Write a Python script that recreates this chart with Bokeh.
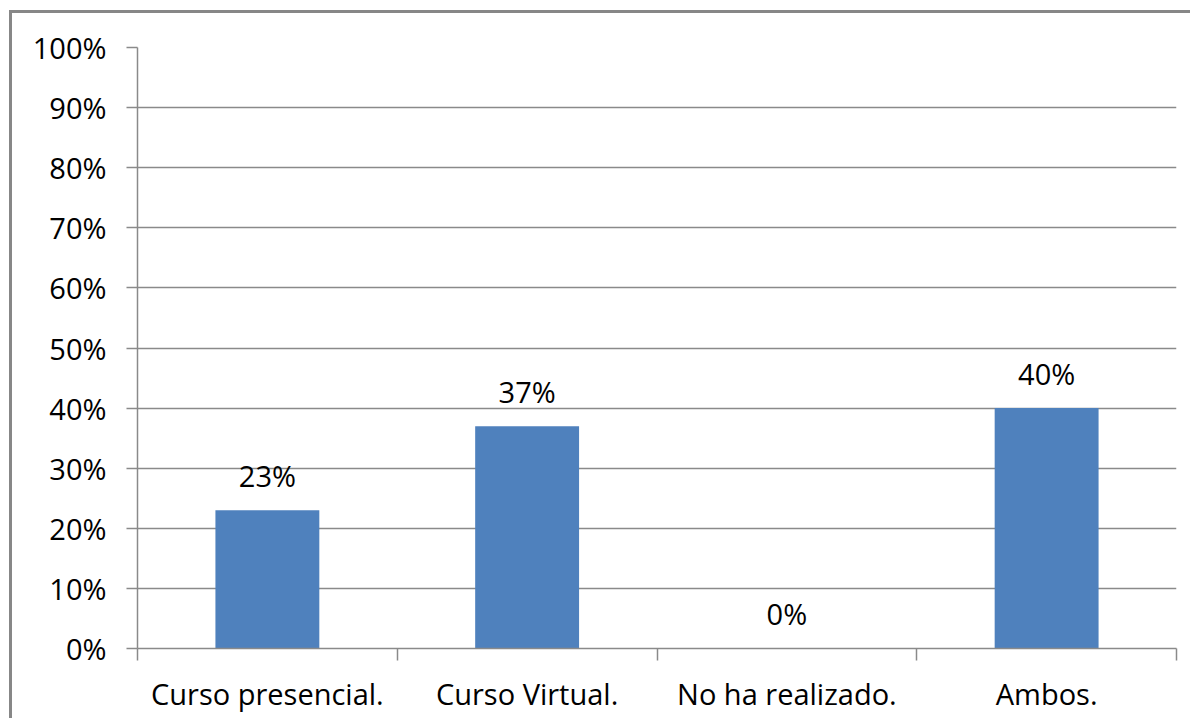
from bokeh.plotting import figure
from bokeh.models import ColumnDataSource, FixedTicker, NumeralTickFormatter
from bokeh.core.properties import value
from bokeh.embed import file_html
from bokeh.resources import INLINE

categories = ["Curso presencial.", "Curso Virtual.", "No ha realizado.", "Ambos."]
values = [0.23, 0.37, 0.0, 0.40]
y_ticks = [0.0, 0.1, 0.2, 0.3, 0.4, 0.5, 0.6, 0.7, 0.8, 0.9, 1.0]
value_labels = ["23%", "37%", "0%", "40%"]

FONT = "Open Sans"
FS = "29px"
GRAY = "#8a8a8a"

x_pos = [i + 0.5 for i in range(len(categories))]
src = ColumnDataSource(dict(x=x_pos, top=values, lab=value_labels))

p = figure(width=1181, height=708, output_backend="svg", toolbar_location=None,
           x_range=(0, len(categories)), y_range=(0, 1.0),
           min_border_left=125, min_border_right=17, min_border_top=34, min_border_bottom=73)
p.outline_line_color = None
p.background_fill_color = "white"
p.border_fill_color = "white"
p.styles = {"border-top": "3px solid #878787", "border-left": "3px solid #878787",
            "margin-left": "9px", "margin-top": "10px"}

p.vbar(x="x", top="top", width=0.4, bottom=0, source=src, color="#4F81BD", line_color=None)
p.text(x="x", y="top", text="lab", source=src, text_align="center", text_baseline="middle",
       y_offset=-35, text_font=value(FONT), text_font_size=FS, text_color="#000000")

# y axis
p.yaxis.ticker = FixedTicker(ticks=y_ticks, minor_ticks=[])
p.yaxis.formatter = NumeralTickFormatter(format="0%")
p.yaxis.axis_line_color = GRAY
p.yaxis.axis_line_width = 1.5
p.yaxis.major_tick_line_color = GRAY
p.yaxis.major_tick_line_width = 1.5
p.yaxis.major_tick_out = 11
p.yaxis.major_tick_in = 0
p.yaxis.minor_tick_line_color = None
p.yaxis.major_label_standoff = 20
p.yaxis.major_label_text_font = FONT
p.yaxis.major_label_text_font_size = FS
p.yaxis.major_label_text_color = "#000000"

# x axis
p.xaxis.ticker = FixedTicker(ticks=x_pos, minor_ticks=list(range(len(categories) + 1)))
p.xaxis.major_label_overrides = {x: c for x, c in zip(x_pos, categories)}
p.xaxis.axis_line_color = GRAY
p.xaxis.axis_line_width = 1.5
p.xaxis.major_tick_line_color = None
p.xaxis.major_tick_out = 0
p.xaxis.major_tick_in = 0
p.xaxis.minor_tick_line_color = GRAY
p.xaxis.minor_tick_line_width = 1.5
p.xaxis.minor_tick_out = 12
p.xaxis.minor_tick_in = 0
p.xaxis.major_label_standoff = 13
p.xaxis.major_label_text_font = FONT
p.xaxis.major_label_text_font_size = FS
p.xaxis.major_label_text_color = "#000000"

p.xgrid.grid_line_color = None
p.ygrid.ticker = FixedTicker(ticks=y_ticks)
p.ygrid.grid_line_color = GRAY
p.ygrid.grid_line_width = 1.5

open("out.html", "w").write(file_html(p, INLINE))
